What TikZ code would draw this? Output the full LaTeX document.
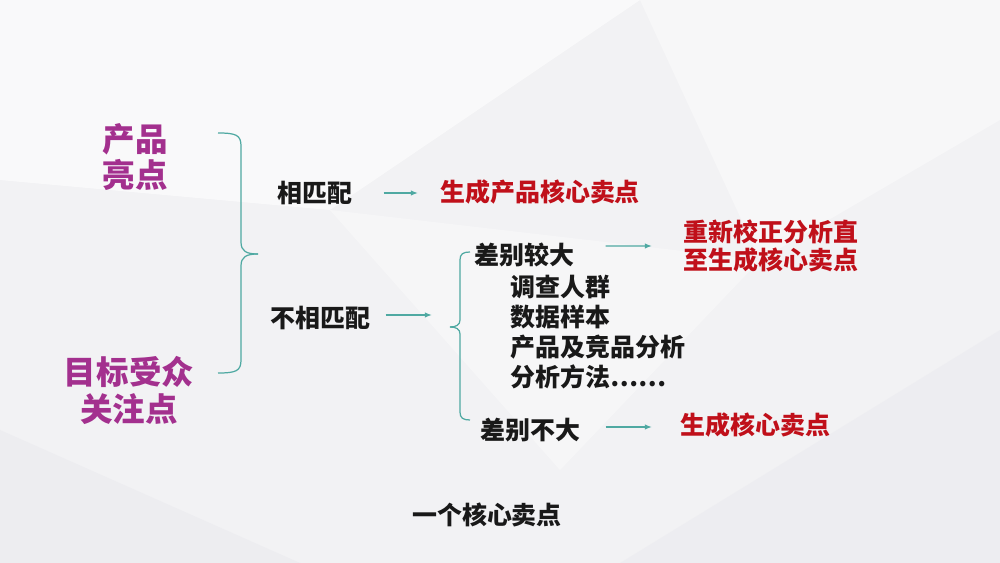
\documentclass[tikz,border=0pt]{standalone}
\usepackage{fontspec}
\setmainfont{Noto Sans CJK SC}
\usetikzlibrary{arrows.meta,positioning}
\definecolor{tmag}{HTML}{A3308E}
\definecolor{tred}{HTML}{C0101A}
\definecolor{tteal}{HTML}{4FA9A2}
\definecolor{tbg}{HTML}{F2F2F4}
\definecolor{tshade}{HTML}{EBEBEF}

\begin{document}
\begin{tikzpicture}[x=0.02cm,y=-0.02cm,
  key/.style={font=\fontsize{18.5pt}{21pt}\selectfont\bfseries,text=tmag,
              align=center,inner sep=0pt},
  plain/.style={font=\fontsize{14.2pt}{17pt}\selectfont\bfseries,text=black!90,
                inner sep=0pt,anchor=west,align=left},
  res/.style={plain,text=tred,font=\fontsize{14.2pt}{16pt}\selectfont\bfseries},
  arr/.style={draw=tteal,line width=0.7pt,-{Latex[length=4pt,width=3pt]}},
  brc/.style={draw=tteal,line width=0.7pt}
]
% background
\useasboundingbox (0,0) rectangle (1000,563);
\fill[tbg] (0,0) rectangle (1000,563);
\fill[white,opacity=0.6] (0,0) -- (640,0) -- (330,210) -- (0,180) -- cycle;
\fill[white,opacity=0.4] (640,0) -- (1000,0) -- (1000,120) -- (760,260) -- cycle;
\fill[tshade,opacity=0.7] (0,430) -- (300,563) -- (0,563) -- cycle;
\fill[tshade,opacity=0.6] (620,563) -- (1000,330) -- (1000,563) -- cycle;
\fill[white,opacity=0.35] (330,210) -- (760,260) -- (560,470) -- cycle;

% left keys
\node[key] (prod) at (135,157) {产品\\亮点};
\node[key] (aud) at (129,390) {目标受众\\关注点};

% first brace
\coordinate (b1top) at (218,133);
\coordinate (b1bot) at (218,373);
\coordinate (b1tip) at (258,254);
\draw[brc] (b1top) .. controls (236,133) and (241,135) .. (241,146)
  -- (241,242) .. controls (241,251) and (246,254) .. (b1tip);
\draw[brc] (b1bot) .. controls (236,373) and (241,371) .. (241,360)
  -- (241,266) .. controls (241,257) and (246,254) .. (b1tip);

% matching branch
\node[plain] (match) at (277,193) {相匹配};
\node[res] (res1) at (440,192) {生成产品核心卖点};
\draw[arr,shorten <=0.62cm,shorten >=0.44cm] (match.east) -- (res1.west |- match.east);

% not matching branch
\node[plain] (nomatch) at (270,318) {不相匹配};
\coordinate (b2tip) at (450,327);
\draw[arr,shorten <=0.3cm,shorten >=0.36cm] ([yshift=0.06cm]nomatch.east)
  -- ([yshift=0.06cm]b2tip |- nomatch.east);

% second brace
\coordinate (b2top) at (470,252);
\coordinate (b2bot) at (470,420);
\draw[brc] (b2top) .. controls (463,252) and (460,254) .. (460,260)
  -- (460,320) .. controls (460,325) and (456,327) .. (b2tip);
\draw[brc] (b2bot) .. controls (463,420) and (460,418) .. (460,412)
  -- (460,334) .. controls (460,329) and (456,327) .. (b2tip);

% large difference
\node[plain] (big) at (474,255) {差别较大};
\node[plain,font=\fontsize{14.2pt}{17.2pt}\selectfont\bfseries] (items) at (510,332)
  {调查人群\\数据样本\\产品及竞品分析\\分析方法……};
\node[res] (res2) at (683,246) {重新校正分析直\\至生成核心卖点};
\draw[arr] ([xshift=0.62cm,yshift=0.18cm]big.east) -- ([xshift=-0.62cm]res2.west);

% small difference
\node[plain] (small) at (480,430) {差别不大};
\node[res] (res3) at (680,425) {生成核心卖点};
\draw[arr,shorten <=0.5cm,shorten >=0.56cm] ([yshift=0.06cm]small.east)
  -- ([yshift=0.06cm]res3.west |- small.east);

% caption
\node[plain,anchor=center] (title) at (487,515) {一个核心卖点};
\end{tikzpicture}
\end{document}
